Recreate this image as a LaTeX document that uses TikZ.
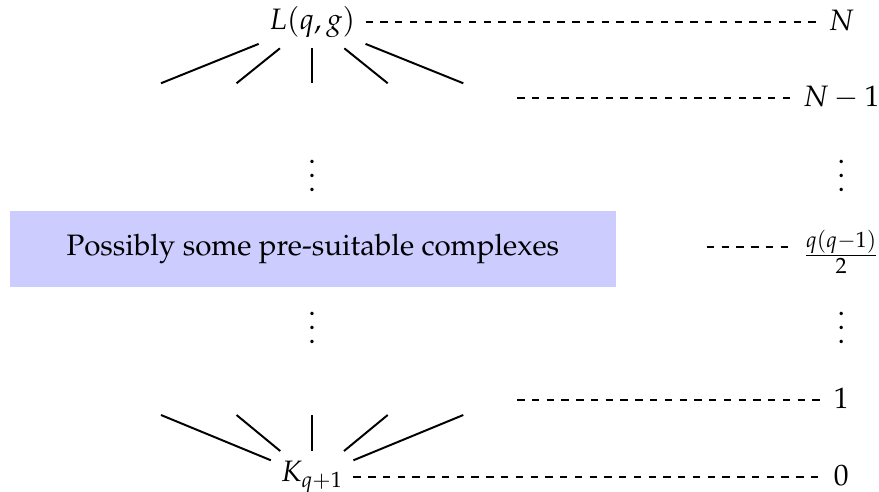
\documentclass[tikz,border=0pt,12pt]{standalone}
\usepackage[T1]{fontenc}
\usepackage{mathpazo}
\usetikzlibrary{positioning,calc}
\definecolor{ccaja}{HTML}{CCCCFF}
\newcommand{\puntosv}{\vbox{\baselineskip=5.7pt\lineskiplimit=0pt\hbox{.}\hbox{.}\hbox{.}}}
\tikzset{
  nivel/.style={text height=1.6ex,text depth=.4ex,inner sep=4pt},
  rama/.style={draw=black,thick},
  guia/.style={draw=black,dashed,thick},
  caja/.style={fill=ccaja,minimum width=86.6mm,minimum height=10.9mm,align=center},
  puntos/.style={anchor=base,inner sep=0pt},
}

\begin{document}
\begin{tikzpicture}[x=1cm,y=1cm]
\useasboundingbox (0,0) rectangle (12.56,7.02);

\node (L) at (4.46,6.70) {$L(q,g)$};
\node (K) at (4.46,0.20) {$K_{q+1}$};
\node[caja] (caja) at (4.47,3.46) {Possibly some pre-suitable complexes};

\node[nivel] (nN) at (12.02,6.70) {$N$};
\node[nivel] (nN1) at (12.02,5.62) {$N-1$};
\node (nq) at (12.02,3.42) {$\frac{q(q-1)}{2}$};
\node[nivel] (n1) at (12.02,1.30) {$1$};
\node[nivel] (n0) at (12.02,0.20) {$0$};

\node[puntos] (p1) at (4.46,4.28) {\puntosv};
\node[puntos] (p2) at (12.02,4.28) {\puntosv};
\node[puntos] (p3) at (4.46,2.11) {\puntosv};
\node[puntos] (p4) at (12.02,2.11) {\puntosv};

\coordinate (s1) at (7.39,5.62);
\coordinate (s2) at (10.10,3.49);
\coordinate (s3) at (7.39,1.30);

\foreach \i in {1,...,5}{
  \coordinate (t\i) at ({4.46+(\i-3)*1.08},5.83);
  \coordinate (b\i) at ({4.46+(\i-3)*1.08},1.09);
  \draw[rama] (L) -- (t\i);
  \draw[rama] (K) -- (b\i);
}

\draw[guia] (L) -- (nN);
\draw[guia] (s1) -- (nN1);
\draw[guia] (s2) -- (s2 -| nq.west);
\draw[guia] (s3) -- (n1);
\draw[guia] (K) -- (n0);

\end{tikzpicture}
\end{document}
